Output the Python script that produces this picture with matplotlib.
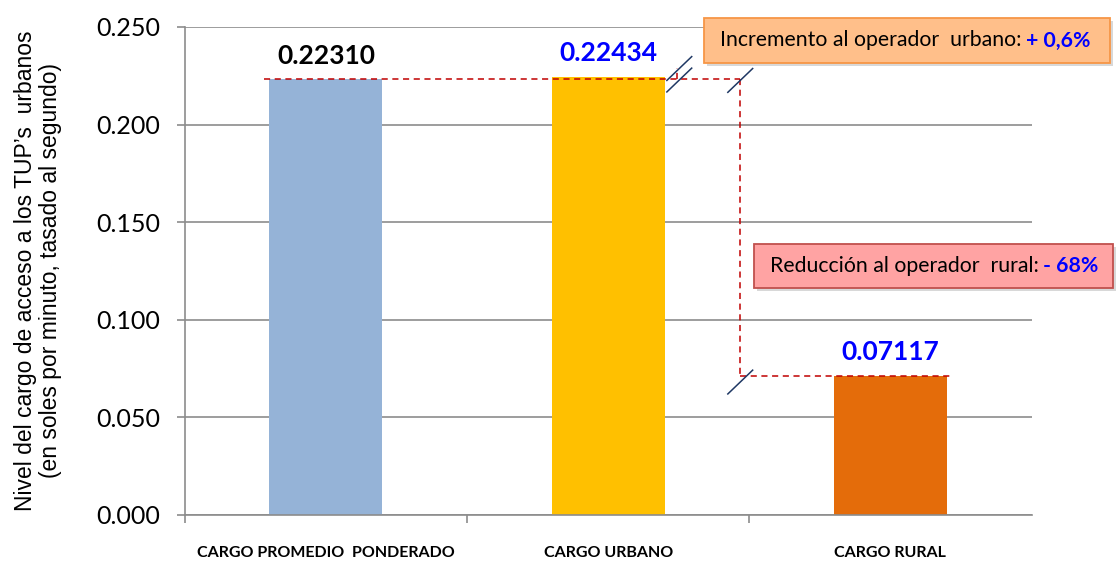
import numpy as np
import matplotlib.pyplot as plt
from matplotlib.patches import FancyBboxPatch

# Datos del grafico
categorias = ["CARGO PROMEDIO  PONDERADO", "CARGO URBANO", "CARGO RURAL"]
valores = [0.22310, 0.22434, 0.07117]
etiquetas = ["0.22310", "0.22434", "0.07117"]
colores_etiqueta = ["black", "#0000FF", "#0000FF"]
colores = ["#95B3D7", "#FFC000", "#E46C0A"]
yticks = [0.0, 0.05, 0.10, 0.15, 0.20, 0.25]

fig = plt.figure(figsize=(11.2, 5.61), dpi=100)
ax = fig.add_axes([0.165, 0.082, 0.756, 0.870])

x = np.arange(len(categorias))
ax.bar(x, valores, width=0.40, color=colores, zorder=2)

ax.set_xlim(-0.5, 2.5)
ax.set_ylim(0, 0.25)
ax.set_yticks(yticks)
ax.set_yticklabels([f"{v:.3f}" for v in yticks], fontfamily="Lato", fontsize=18)
ax.yaxis.grid(True, color="#8C8C8C", lw=1.2, zorder=0)

ax.set_xticks([-0.5, 0.5, 1.5], minor=False)
ax.set_xticklabels([])
ax.set_xticks(x, minor=True)
ax.set_xticklabels(categorias, minor=True, fontfamily="Lato", fontweight="bold",
                   fontsize=11.5)
ax.tick_params(axis="x", which="minor", length=0, pad=22)
ax.tick_params(axis="x", which="major", length=6, color="#8C8C8C", width=1.2)
ax.tick_params(axis="y", length=6, color="#8C8C8C", width=1.2, pad=12)

for s in ["top", "right"]:
    ax.spines[s].set_visible(False)
for s in ["left", "bottom"]:
    ax.spines[s].set_color("#8C8C8C")
    ax.spines[s].set_linewidth(1.2)

ax.set_ylabel("Nivel del cargo de acceso a los TUP’s  urbanos\n(en soles por minuto, tasado al segundo)",
              fontfamily="Liberation Sans", fontsize=16.5, labelpad=24, linespacing=1.15)

# etiquetas de valor
for xi, v, t, c in zip(x, valores, etiquetas, colores_etiqueta):
    ax.annotate(t, (xi, v), xytext=(0, 17), textcoords="offset points",
                ha="center", va="center", fontfamily="Lato", fontweight="bold",
                fontsize=19, color=c, zorder=4)

# lineas guia rojas discontinuas
xv = 1.468
roja = dict(color="#C00000", lw=1.1, ls=(0, (4, 3)), zorder=3, clip_on=False)
ax.plot([-0.22, xv], [valores[0], valores[0]], **roja)
ax.plot([xv, xv], [valores[0], valores[2]], **roja)
ax.plot([xv, 2.22], [valores[2], valores[2]], **roja)
ax.plot([1.245, 1.245], [valores[0], 0.229], **roja)

# marcas diagonales
def marca(xc, yc):
    ax.plot([xc - 0.044, xc + 0.044], [yc - 0.0061, yc + 0.0061],
            color="#1F3864", lw=1.1, zorder=4, clip_on=False)

marca(1.252, 0.2287)
marca(1.252, 0.2228)
marca(xv, 0.2226)
marca(xv, 0.0681)

# cuadros de texto
def cuadro(x0, y0, x1, y1, fc, ec, partes):
    w = (x1 - x0) / 1120
    h = (y1 - y0) / 561
    bx = x0 / 1120
    by = 1 - y1 / 561
    sombra = FancyBboxPatch((bx + 0.003, by - 0.006), w, h, boxstyle="square,pad=0",
                            transform=fig.transFigure, fc="#BFBFBF", ec="none",
                            alpha=0.6, zorder=5)
    caja = FancyBboxPatch((bx, by), w, h, boxstyle="square,pad=0",
                          transform=fig.transFigure, fc=fc, ec=ec, lw=1.3, zorder=6)
    fig.patches.extend([sombra, caja])
    t1 = fig.text(bx + 0.014, by + h / 2, partes[0], fontfamily="Lato", fontsize=15.3,
                  va="center", ha="left", zorder=7)
    fig.canvas.draw()
    bb = t1.get_window_extent()
    fig.text(bb.x1 / 1120 + 0.004, by + h / 2, partes[1], fontfamily="Lato",
             fontsize=15.3, fontweight="bold", color="#0000FF", va="center",
             ha="left", zorder=7)

cuadro(704, 18, 1110, 63, "#FFBF8A", "#F79646",
       ["Incremento al operador  urbano:", "+ 0,6%"])
cuadro(754, 244, 1113, 288, "#FFA3A3", "#C0504D",
       ["Reducción al operador  rural:", "- 68%"])

fig.savefig("out.png", dpi=100)
